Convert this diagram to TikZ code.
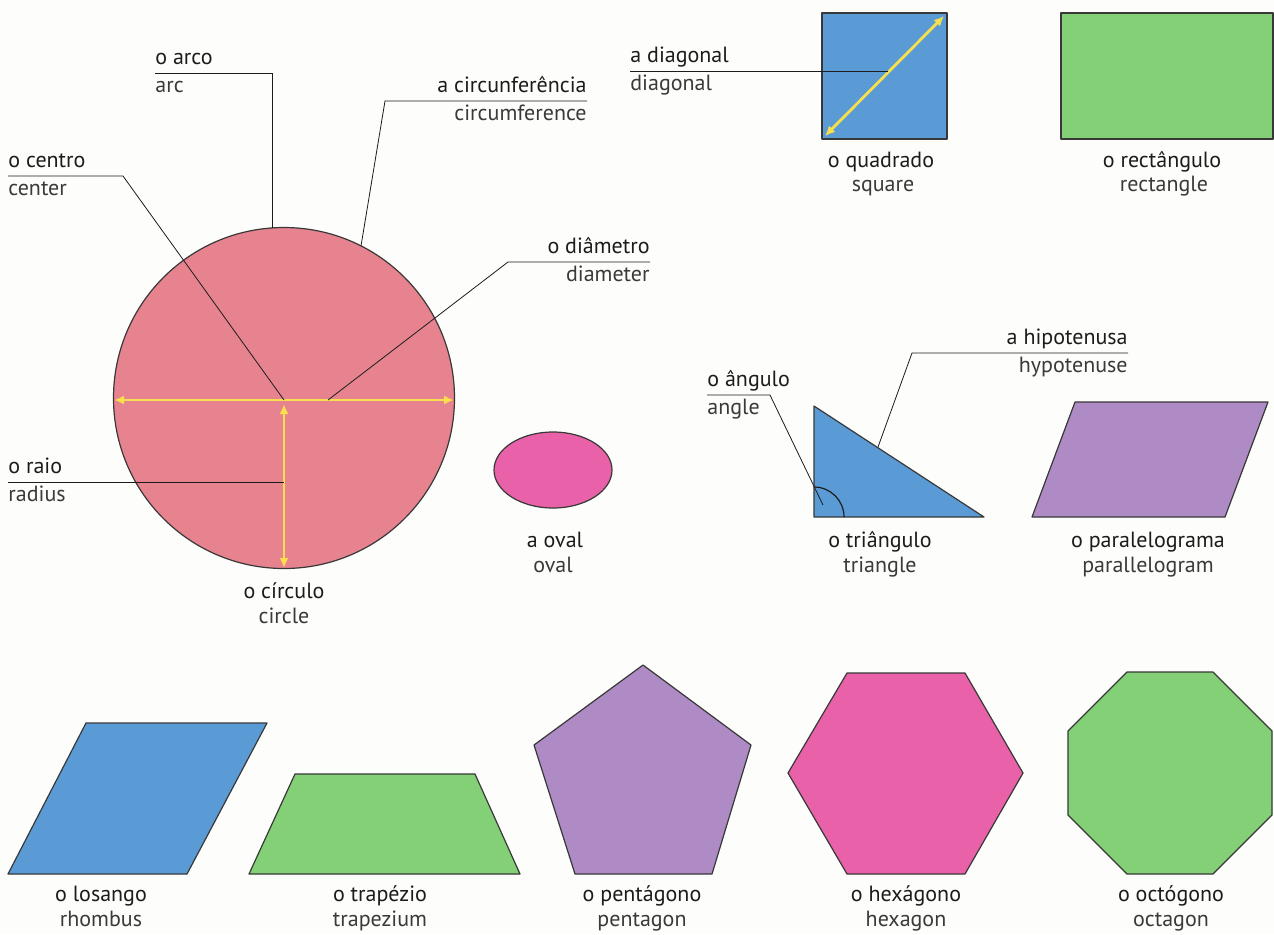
\documentclass[tikz,border=0pt]{standalone}
\usepackage{fontspec}
\setmainfont{PT Sans}
\usetikzlibrary{arrows.meta,calc}
\definecolor{Ink}{HTML}{1C1C1C}
\definecolor{Muted}{HTML}{3A3A3A}
\definecolor{Edge}{HTML}{383838}
\definecolor{Paper}{HTML}{FDFDFB}
\definecolor{Rose}{HTML}{E7838F}
\definecolor{Magenta}{HTML}{E961A8}
\definecolor{Sky}{HTML}{5A9BD6}
\definecolor{Leaf}{HTML}{83D076}
\definecolor{Lilac}{HTML}{AE8BC4}
\definecolor{Marker}{HTML}{F7E04B}
\tikzset{word/.style={inner sep=0pt,font=\fontsize{11}{13}\selectfont,text=Ink},
  gloss/.style={word,text=Muted},
  fig/.style={draw=Edge,line width=0.6pt,line join=round},
  leader/.style={draw=Ink,line width=0.4pt},
  measure/.style={draw=Marker,line width=1.4pt,
    arrows={Latex[length=5pt,width=4.5pt]-Latex[length=5pt,width=4.5pt]}}}

\begin{document}
\begin{tikzpicture}[x=0.5pt,y=-0.5pt]
    \useasboundingbox[fill=Paper] (0,0) rectangle (1274,934);
    % circle and its parts
    \filldraw[fig,fill=Rose] (284,398) circle[radius=170.5];
    \coordinate (mid) at (284,400);
    \coordinate (arcpt) at (272,228);
    \coordinate (circpt) at (361,246);
    \coordinate (diampt) at (328,400);
    \coordinate (raiopt) at (284,482);
    \draw[measure] (114,400) -- (454,400);
    \draw[measure] (284,404) -- (284,568);
    \node[word,anchor=base west] (arco) at (155,64) {o arco};
    \node[gloss,anchor=base west] (arcoen) at (155,92) {arc};
    \draw[leader] ($(arco.base west)+(0,9)$) -| (arcpt);
    \node[word,anchor=base east] (circ) at (587,92) {a circunferência};
    \node[gloss,anchor=base east] (circen) at (587,120) {circumference};
    \draw[leader] ($(circ.base east)+(0,9)$) -- ++(-202,0) -- (circpt);
    \node[word,anchor=base west] (centro) at (8,167) {o centro};
    \node[gloss,anchor=base west] (centroen) at (8,195) {center};
    \draw[leader] ($(centro.base west)+(0,9)$) -- ++(115,0) -- (mid);
    \node[word,anchor=base east] (diam) at (650,253) {o diâmetro};
    \node[gloss,anchor=base east] (diamen) at (650,281) {diameter};
    \draw[leader] ($(diam.base east)+(0,9)$) -- ++(-142,0) -- (diampt);
    \node[word,anchor=base west] (raio) at (8,473) {o raio};
    \node[gloss,anchor=base west] (raioen) at (8,501) {radius};
    \draw[leader] ($(raio.base west)+(0,9)$) -- (raiopt);
    \node[word,anchor=base] (circulo) at (284,598) {o círculo};
    \node[gloss,anchor=base] (circuloen) at (284,623) {circle};
    % oval
    \filldraw[fig,fill=Magenta] (553,470) ellipse[x radius=59,y radius=38];
    \node[word,anchor=base] (oval) at (555,547) {a oval};
    \node[gloss,anchor=base] (ovalen) at (553,572) {oval};
    % square and rectangle
    \filldraw[fig,fill=Sky] (822,13) rectangle (947,139);
    \draw[measure] (825,136) -- (944,16);
    \coordinate (diagpt) at (888,71);
    \node[word,anchor=base west] (diag) at (630,62) {a diagonal};
    \node[gloss,anchor=base west] (diagen) at (630,90) {diagonal};
    \draw[leader] ($(diag.base west)+(0,9)$) -- (diagpt);
    \node[word,anchor=base] (quad) at (881,167) {o quadrado};
    \node[gloss,anchor=base] (quaden) at (883,191) {square};
    \filldraw[fig,fill=Leaf] (1061,13) rectangle (1273,139);
    \node[word,anchor=base] (rect) at (1162,167) {o rectângulo};
    \node[gloss,anchor=base] (recten) at (1164,191) {rectangle};
    % triangle
    \filldraw[fig,fill=Sky] (814,406) -- (814,517) -- (984,517) -- cycle;
    \draw[draw=Ink,line width=0.6pt] (844,517) arc[start angle=0,end angle=-90,radius=30];
    \coordinate (angpt) at (823,505);
    \coordinate (hyppt) at (878,447);
    \node[word,anchor=base west] (ang) at (707,386) {o ângulo};
    \node[gloss,anchor=base west] (angen) at (707,414) {angle};
    \draw[leader] ($(ang.base west)+(0,9)$) -- ++(63,0) -- (angpt);
    \node[word,anchor=base east] (hyp) at (1128,344) {a hipotenusa};
    \node[gloss,anchor=base east] (hypen) at (1128,372) {hypotenuse};
    \draw[leader] ($(hyp.base east)+(0,9)$) -- ++(-216,0) -- (hyppt);
    \node[word,anchor=base] (tri) at (880,547) {o triângulo};
    \node[gloss,anchor=base] (trien) at (880,572) {triangle};
    % parallelogram
    \filldraw[fig,fill=Lilac] (1032,517) -- (1225,517) -- (1268,402) -- (1075,402) -- cycle;
    \node[word,anchor=base] (para) at (1148,547) {o paralelograma};
    \node[gloss,anchor=base] (paraen) at (1148,572) {parallelogram};
    % bottom row
    \filldraw[fig,fill=Sky] (8,874) -- (187,874) -- (267,723) -- (86,723) -- cycle;
    \node[word,anchor=base] (los) at (101,901) {o losango};
    \node[gloss,anchor=base] (losen) at (101,926) {rhombus};
    \filldraw[fig,fill=Leaf] (249,874) -- (520,874) -- (475,774) -- (295,774) -- cycle;
    \node[word,anchor=base] (trap) at (380,901) {o trapézio};
    \node[gloss,anchor=base] (trapen) at (380,926) {trapezium};
    \filldraw[fig,fill=Lilac] (643,665) -- (751,745) -- (712,874) -- (575,874) -- (534,745) -- cycle;
    \node[word,anchor=base] (pent) at (642,901) {o pentágono};
    \node[gloss,anchor=base] (penten) at (642,926) {pentagon};
    \filldraw[fig,fill=Magenta] (847,673) -- (965,673) -- (1023,773) -- (965,874) -- (847,874) -- (788,773) -- cycle;
    \node[word,anchor=base] (hex) at (906,901) {o hexágono};
    \node[gloss,anchor=base] (hexen) at (906,926) {hexagon};
    \filldraw[fig,fill=Leaf] (1127,672) -- (1213,672) -- (1272,731) -- (1272,815) -- (1213,874) -- (1127,874) -- (1068,815) -- (1068,731) -- cycle;
    \node[word,anchor=base] (oct) at (1171,901) {o octógono};
    \node[gloss,anchor=base] (octen) at (1171,926) {octagon};
\end{tikzpicture}
\end{document}
